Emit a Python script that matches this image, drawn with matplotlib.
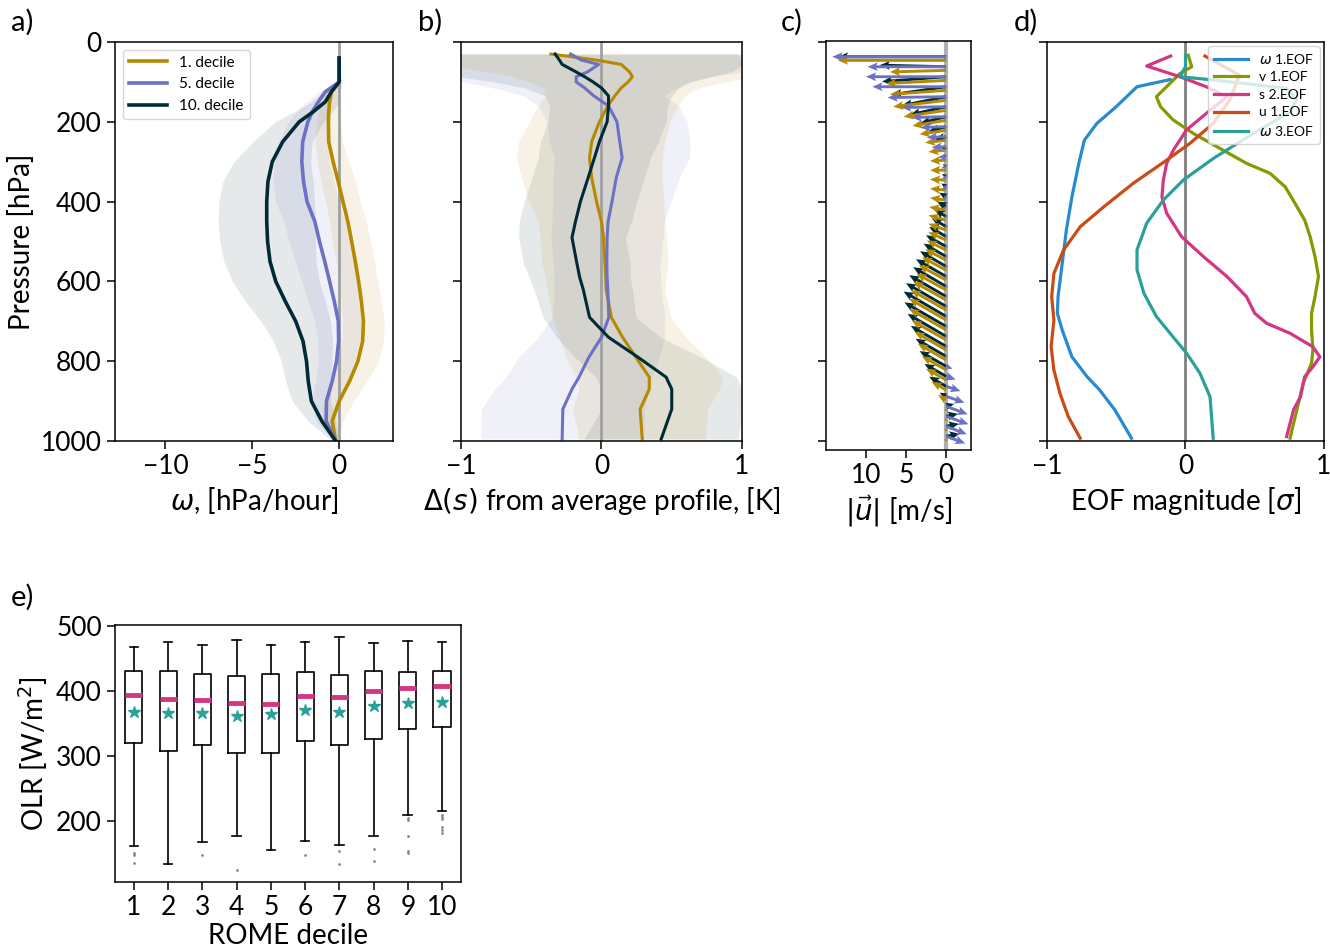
import numpy as np
import matplotlib
matplotlib.use('Agg')
import matplotlib.pyplot as plt

plt.rcParams['font.family'] = ['Lato', 'DejaVu Sans']
plt.rcParams['mathtext.fontset'] = 'dejavusans'

# colours (solarized)
c_d1, c_d5, c_d10 = '#b58900', '#6c71c4', '#002b36'
eof_colors = ['#268bd2', '#859900', '#d33682', '#cb4b16', '#2aa198']

# ---- panel a: omega profiles per ROME decile
p_a = [40, 100, 125, 150, 175, 200, 250, 300, 350, 400, 450, 500, 550, 600,
       650, 700, 750, 800, 850, 900, 950, 1000]
omega_d1 = [0, 0, -0.45, -0.55, -0.6, -0.62, -0.6, -0.35, -0.05, 0.22, 0.5, 0.72,
            0.93, 1.12, 1.28, 1.4, 1.35, 1.08, 0.6, 0.0, -0.4, -0.2]
omega_d5 = [0, 0, -0.8, -1.2, -1.55, -1.8, -2.1, -2.15, -2.05, -1.85, -1.4, -1.13,
            -0.83, -0.55, -0.28, -0.05, -0.03, -0.15, -0.4, -0.73, -0.75, -0.2]
omega_d10 = [0, 0, -0.45, -0.8, -1.5, -2.3, -3.25, -3.85, -4.1, -4.17, -4.17, -4.12,
             -3.98, -3.65, -3.1, -2.5, -2.08, -1.88, -1.78, -1.6, -1.0, -0.2]
omega_sd_d1 = [0, 0.1, 0.3, 0.5, 0.6, 0.7, 0.8, 0.9, 1.0, 1.0, 1.05, 1.1, 1.1, 1.1,
               1.15, 1.2, 1.2, 1.2, 1.0, 0.85, 0.6, 0.15]
omega_sd_d5 = [0, 0.1, 0.4, 0.7, 0.9, 1.1, 1.4, 1.6, 1.75, 1.8, 1.8, 1.75, 1.7, 1.6,
               1.5, 1.35, 1.2, 1.05, 0.95, 0.85, 0.6, 0.15]
omega_sd_d10 = [0, 0.15, 0.5, 0.8, 1.1, 1.4, 1.7, 2.2, 2.6, 2.75, 2.8, 2.75, 2.65, 2.5,
                2.3, 2.0, 1.7, 1.45, 1.3, 1.1, 0.8, 0.2]

# ---- panel b: static energy anomaly
p_b = [30, 45, 56, 75, 87, 100, 115, 135, 160, 200, 250, 290, 340, 400, 450, 490,
       555, 590, 620, 690, 740, 790, 840, 870, 920, 995]
s_d1 = [-0.36, -0.04, 0.14, 0.2, 0.22, 0.19, 0.14, 0.095, 0.045, -0.015, -0.07, -0.085,
        -0.07, -0.035, 0.0, 0.014, 0.025, 0.03, 0.033, 0.07, 0.15, 0.245, 0.34, 0.34,
        0.275, 0.29]
s_d5 = [-0.22, -0.145, -0.02, -0.1, -0.18, -0.18, -0.12, -0.055, 0.05, 0.11, 0.13,
        0.147, 0.105, 0.075, 0.047, 0.04, 0.038, 0.04, 0.045, 0.052, 0.0, -0.09, -0.16,
        -0.21, -0.275, -0.28]
s_d10 = [-0.33, -0.3, -0.28, -0.18, -0.12, -0.06, 0.0, 0.05, 0.05, 0.04, -0.015, -0.05,
         -0.095, -0.15, -0.185, -0.21, -0.175, -0.155, -0.13, -0.085, 0.05, 0.26, 0.46,
         0.5, 0.5, 0.425]
s_sd_d1 = [1.4, 1.4, 1.3, 1.0, 0.85, 0.7, 0.55, 0.5, 0.5, 0.5, 0.52, 0.52, 0.5, 0.48,
           0.45, 0.45, 0.45, 0.43, 0.42, 0.42, 0.45, 0.5, 0.52, 0.5, 0.48, 0.45]
s_sd_d5 = [1.3, 1.3, 1.3, 1.1, 0.95, 0.8, 0.65, 0.5, 0.5, 0.5, 0.5, 0.48, 0.45, 0.42,
           0.4, 0.4, 0.38, 0.38, 0.38, 0.4, 0.45, 0.5, 0.52, 0.55, 0.58, 0.58]
s_sd_d10 = [1.3, 1.3, 1.3, 1.1, 0.9, 0.7, 0.55, 0.45, 0.42, 0.42, 0.42, 0.4, 0.4, 0.4,
            0.4, 0.38, 0.38, 0.36, 0.35, 0.33, 0.37, 0.45, 0.5, 0.5, 0.5, 0.55]

# ---- panel c: wind vectors (u, v) in m/s
p_c = [37.5, 62.5, 87.5, 112.5, 137.5, 162.5, 187.5, 212.5, 237.5, 262.5, 287.5, 312.5,
       337.5, 362.5, 387.5, 412.5, 437.5, 462.5, 487.5, 512.5, 537.5, 562.5, 587.5,
       612.5, 637.5, 662.5, 687.5, 712.5, 737.5, 762.5, 787.5, 812.5, 837.5, 862.5,
       887.5, 912.5, 937.5, 962.5, 987.5]
u_d1 = [-13.5, -7.0, -7.5, -7.0, -6.6, -5.3, -4.2, -3.3, -2.6, -2.2, -2.0, -2.0, -2.0,
        -2.0, -2.0, -2.1, -2.2, -2.2, -2.2, -2.4, -2.6, -3.0, -3.4, -3.7, -4.1, -4.4,
        -4.6, -4.6, -4.3, -3.9, -3.5, -3.0, -2.5, -1.8, -1.0, -0.2, 0.0, 0.0, 0.0]
v_d1 = [0, -0.2, -0.4, -0.5, -0.8, -0.8, -0.7, -0.5, -0.3, -0.2, -0.1, 0.0, 0.1, 0.2,
        0.3, 0.4, 0.6, 0.8, 1.0, 1.2, 1.35, 1.6, 1.85, 2.05, 2.3, 2.5, 2.65, 2.65,
        2.45, 2.25, 2.0, 1.7, 1.4, 1.0, 0.6, 0.1, 0.0, 0.0, 0.0]
u_d5 = [-14.2, -9.8, -10.0, -9.2, -7.3, -5.6, -4.3, -3.2, -2.4, -1.8, -1.0, -0.6, -0.5,
        -0.5, -0.4, -0.3, -0.3, -0.3, -0.3, -0.3, -0.3, -0.3, -0.3, -0.3, -0.3, -0.3,
        -0.3, -0.3, -0.2, -0.1, 0.3, 0.8, 1.2, 1.8, 2.3, 2.7, 2.8, 2.6, 2.4]
v_d5 = [0, 0, 0, 0, -0.1, -0.1, -0.1, -0.1, -0.1, -0.1, -0.1, -0.2, -0.3, -0.5, -0.4,
        -0.3, -0.2, -0.2, -0.2, -0.2, -0.2, -0.2, -0.2, -0.2, -0.2, -0.2, -0.2, -0.2,
        -0.2, -0.1, -0.1, -0.3, -0.4, -0.6, -0.8, -1.0, -1.0, -1.0, -0.9]
u_d10 = [-13.5, -8.3, -8.0, -6.8, -5.5, -4.5, -3.2, -2.2, -1.4, -0.6, -0.5, -0.4, -0.5,
         -0.6, -0.85, -1.15, -1.45, -1.75, -2.1, -2.5, -2.8, -3.25, -3.75, -4.1, -4.6,
         -5.0, -5.3, -5.2, -4.8, -4.4, -3.8, -3.3, -2.7, -2.1, -0.8, 1.0, 1.5, 1.6, 1.7]
v_d10 = [0, 0.2, -0.6, -1.0, -1.1, -1.0, -0.8, -0.6, -0.4, -0.3, 0.2, 0.3, 0.35, 0.4,
         0.5, 0.65, 0.85, 1.0, 1.2, 1.4, 1.6, 1.9, 2.15, 2.4, 2.65, 2.9, 3.1, 3.0, 2.8,
         2.55, 2.2, 1.9, 1.55, 1.2, 0.45, 0.3, 0.3, 0.3, 0.3]

# ---- panel d: EOF profiles (each with own pressure levels)
eof_labels = [r'$\omega$ 1.EOF', 'v 1.EOF', 's 2.EOF', 'u 1.EOF', r'$\omega$ 3.EOF']
p_w1 = [94, 112, 162, 204, 246, 304, 388, 471, 555, 638, 680, 722, 789, 839, 872, 922, 993]
eof_w1 = [-0.11, -0.35, -0.5, -0.64, -0.73, -0.77, -0.82, -0.86, -0.89, -0.92, -0.925,
          -0.89, -0.82, -0.71, -0.62, -0.51, -0.39]
p_v1 = [33, 62, 79, 137, 162, 195, 229, 262, 304, 329, 363, 404, 446, 488, 538, 588,
        638, 680, 722, 772, 805, 855, 906, 956, 993]
eof_v1 = [0.02, 0.045, -0.04, -0.21, -0.18, -0.09, 0.056, 0.225, 0.44, 0.61, 0.72, 0.79,
          0.86, 0.9, 0.935, 0.96, 0.935, 0.91, 0.91, 0.92, 0.91, 0.85, 0.815, 0.78, 0.755]
p_s2 = [35, 60, 87, 112, 137, 179, 220, 271, 304, 346, 388, 429, 488, 538, 588, 638,
        680, 705, 730, 764, 789, 814, 839, 889, 922, 989]
eof_s2 = [-0.107, -0.28, -0.04, 0.15, 0.3, 0.15, 0.008, -0.088, -0.136, -0.16, -0.17,
          -0.136, -0.028, 0.13, 0.3, 0.44, 0.5, 0.586, 0.755, 0.92, 0.97, 0.92, 0.86,
          0.83, 0.78, 0.73]
p_u1 = [35, 83, 145, 204, 254, 296, 354, 413, 463, 521, 580, 638, 697, 764, 822, 881,
        939, 993]
eof_u1 = [0.14, 0.39, 0.32, 0.2, 0.032, -0.136, -0.377, -0.59, -0.76, -0.88, -0.95,
          -0.966, -0.95, -0.97, -0.95, -0.906, -0.846, -0.76]
p_w3 = [33, 62, 87, 95, 116, 145, 175, 229, 292, 346, 396, 454, 521, 571, 630, 688,
        739, 780, 830, 889, 993]
eof_w3 = [0.0, 0.0, -0.04, 0.2, 0.73, 0.8, 0.755, 0.49, 0.2, -0.016, -0.16, -0.28,
          -0.35, -0.35, -0.3, -0.21, -0.09, 0.008, 0.104, 0.177, 0.2]

# ---- panel e: OLR box statistics per ROME decile
deciles = [1, 2, 3, 4, 5, 6, 7, 8, 9, 10]
olr_whishi = [467.8, 475.5, 471.4, 479.6, 471.4, 475.5, 483.2, 474.0, 478.1, 475.5]
olr_q3 = [430.6, 430.6, 426.0, 423.9, 426.0, 430.0, 425.0, 431.6, 430.0, 431.6]
olr_med = [393.8, 387.7, 386.2, 381.6, 381.0, 392.8, 391.3, 400.5, 404.5, 408.1]
olr_mean = [367.3, 366.3, 366.3, 362.2, 364.8, 371.4, 367.3, 376.5, 381.1, 384.1]
olr_q1 = [320.8, 308.6, 317.8, 305.5, 305.5, 323.4, 317.3, 327.0, 341.2, 344.8]
olr_whislo = [162.0, 133.5, 168.2, 177.4, 155.4, 168.6, 162.5, 176.9, 209.0, 214.7]
olr_fliers = [[150, 147, 135], [], [148], [124], [], [147], [154, 134.5], [157, 139],
              [204, 201, 177, 154, 151], [209, 206, 203, 190, 186, 182]]

FS = 19   # tick labels
LS = 20   # axis labels
fig = plt.figure(figsize=(13.3, 9.49), dpi=100)


def style(ax):
    ax.tick_params(labelsize=FS, length=6, width=1.1)
    for s in ax.spines.values():
        s.set_linewidth(1.1)


pticks = [0, 200, 400, 600, 800, 1000]

# a)
ax = fig.add_axes([0.0865, 0.5353, 0.209, 0.4204])
for m, sd, c in [(omega_d10, omega_sd_d10, c_d10), (omega_d5, omega_sd_d5, c_d5),
                 (omega_d1, omega_sd_d1, c_d1)]:
    m, sd = np.array(m), np.array(sd)
    ax.fill_betweenx(p_a, m - sd, m + sd, color=c, alpha=0.1, lw=0)
ax.axvline(0, color='#a0a0a0', lw=2, zorder=1)
ax.plot(omega_d1, p_a, color=c_d1, lw=2.6, label='1. decile')
ax.plot(omega_d5, p_a, color=c_d5, lw=2.6, label='5. decile')
ax.plot(omega_d10, p_a, color=c_d10, lw=2.6, label='10. decile')
ax.set_ylim(1000, 0)
ax.set_xlim(-12.9, 3.1)
ax.set_yticks(pticks)
ax.set_xticks([-10, -5, 0])
ax.set_ylabel('Pressure [hPa]', fontsize=LS)
ax.set_xlabel(r'$\omega$, [hPa/hour]', fontsize=LS)
ax.legend(loc='upper left', fontsize=11, handlelength=2.5)
style(ax)

# b)
ax = fig.add_axes([0.3466, 0.5353, 0.2113, 0.4204])
for m, sd, c in [(s_d10, s_sd_d10, c_d10), (s_d5, s_sd_d5, c_d5), (s_d1, s_sd_d1, c_d1)]:
    m, sd = np.array(m), np.array(sd)
    ax.fill_betweenx(p_b, m - sd, m + sd, color=c, alpha=0.1, lw=0)
ax.axvline(0, color='#a0a0a0', lw=2, zorder=1)
ax.plot(s_d1, p_b, color=c_d1, lw=2.2)
ax.plot(s_d5, p_b, color=c_d5, lw=2.2)
ax.plot(s_d10, p_b, color=c_d10, lw=2.2)
ax.set_ylim(1000, 0)
ax.set_xlim(-1, 1)
ax.set_yticks(pticks)
ax.set_yticklabels([])
ax.set_xticks([-1, 0, 1])
ax.set_xlabel(r'$\Delta(s)$ from average profile, [K]', fontsize=LS)
style(ax)

# c)  gold arrows are drawn slightly lower so they sit beside the dark ones
ax = fig.add_axes([0.621, 0.5258, 0.109, 0.431])
ax.axvline(0, color='#b0b0b0', lw=3, zorder=0)
p_c_arr = np.array(p_c)
for u, v, c, off in [(u_d10, v_d10, c_d10, 0), (u_d1, v_d1, c_d1, 9),
                     (u_d5, v_d5, c_d5, 0)]:
    ax.quiver(np.zeros(len(p_c)), p_c_arr + off, u, v, color=c, angles='uv',
              scale_units='x', scale=1, width=0.02, headwidth=3, headlength=3.5,
              headaxislength=3, zorder=2)
ax.set_xlim(-15, 3.1)
ax.set_ylim(1022, -2)
ax.set_yticks(pticks)
ax.set_yticklabels([])
ax.set_xticks([-10, -5, 0])
ax.set_xticklabels(['10', '5', '0'])
ax.set_xlabel(r'$|\vec{u}|$ [m/s]', fontsize=LS)
style(ax)

# d)
ax = fig.add_axes([0.7872, 0.5353, 0.2083, 0.4204])
ax.axvline(0, color='#808080', lw=2, zorder=1)
for pp, vals, c, lab in zip([p_w1, p_v1, p_s2, p_u1, p_w3],
                            [eof_w1, eof_v1, eof_s2, eof_u1, eof_w3],
                            eof_colors, eof_labels):
    ax.plot(vals, pp, color=c, lw=2.3, label=lab)
ax.set_ylim(1000, 0)
ax.set_xlim(-1, 1)
ax.set_yticks(pticks)
ax.set_yticklabels([])
ax.set_xticks([-1, 0, 1])
ax.set_xlabel(r'EOF magnitude [$\sigma$]', fontsize=LS)
ax.legend(loc='upper right', fontsize=10, handlelength=2.5, framealpha=0.8,
          borderaxespad=0.3, labelspacing=0.4)
style(ax)

# e)
ax = fig.add_axes([0.0865, 0.0706, 0.26, 0.2708])
stats = []
for i in range(len(deciles)):
    stats.append(dict(med=olr_med[i], q1=olr_q1[i], q3=olr_q3[i], whislo=olr_whislo[i],
                      whishi=olr_whishi[i], mean=olr_mean[i], fliers=olr_fliers[i]))
ax.bxp(stats, positions=deciles, widths=0.5, showmeans=True,
       boxprops=dict(color='black', lw=1.2),
       whiskerprops=dict(color='black', lw=1.2),
       capprops=dict(color='black', lw=1.2),
       medianprops=dict(color='#d33682', lw=3.5),
       meanprops=dict(marker='*', markerfacecolor='#2aa198', markeredgecolor='#2aa198',
                      markersize=9),
       flierprops=dict(marker='.', markersize=2, markerfacecolor='#888888',
                       markeredgecolor='#888888'))
ax.set_ylim(106, 502)
ax.set_xlim(0.45, 10.55)
ax.set_yticks([200, 300, 400, 500])
ax.set_xticks(deciles)
ax.set_xticklabels([str(d) for d in deciles])
ax.set_xlabel('ROME decile', fontsize=LS, labelpad=2)
ax.set_ylabel(r'OLR [W/m$^2$]', fontsize=LS)
style(ax)

for x, y, t in [(0.008, 0.977, 'a)'), (0.314, 0.977, 'b)'), (0.587, 0.977, 'c)'),
                (0.762, 0.977, 'd)'), (0.008, 0.371, 'e)')]:
    fig.text(x, y, t, fontsize=21, va='center')

fig.savefig('out.png', dpi=100)
